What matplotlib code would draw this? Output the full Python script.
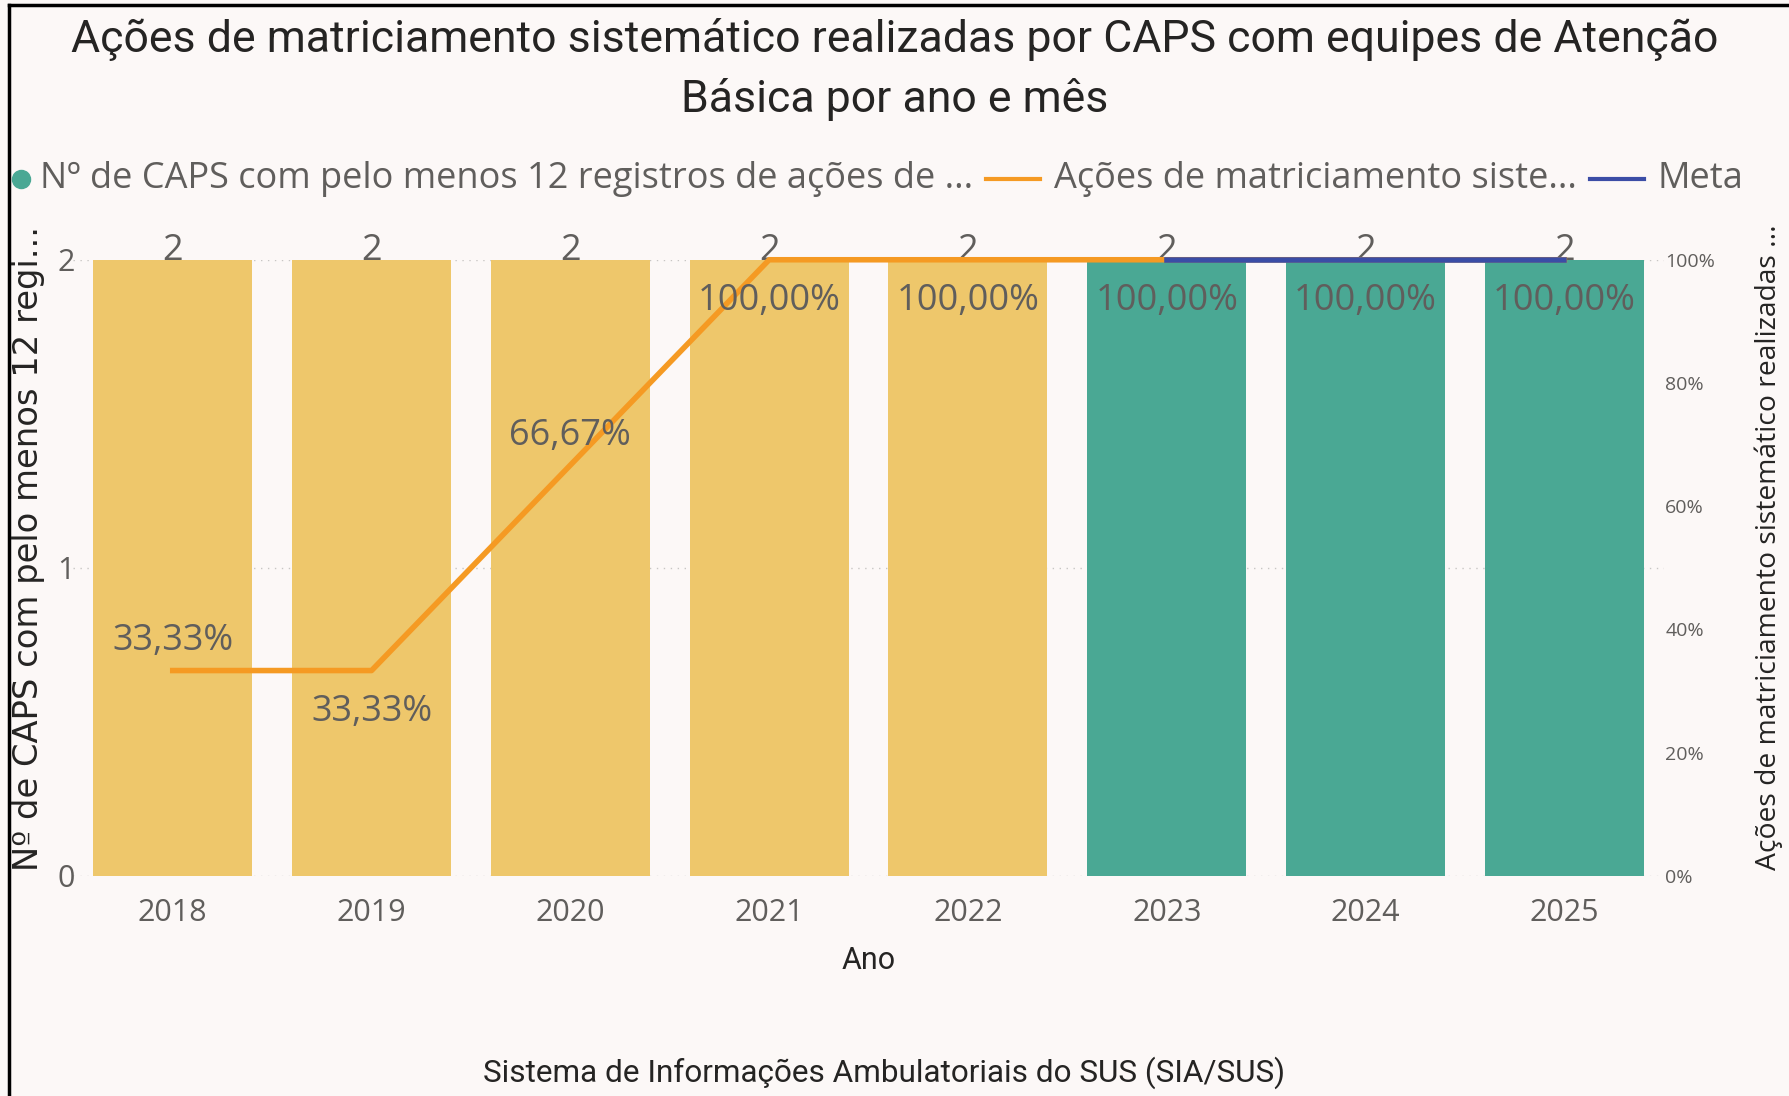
import matplotlib.pyplot as plt
from matplotlib.lines import Line2D
from matplotlib.ticker import FuncFormatter

# data
anos = ["2018", "2019", "2020", "2021", "2022", "2023", "2024", "2025"]
n_caps = [2, 2, 2, 2, 2, 2, 2, 2]
acoes_pct = [33.33, 33.33, 66.67, 100.00, 100.00, 100.00, 100.00, 100.00]
meta_anos = ["2023", "2024", "2025"]
meta_pct = [100, 100, 100]

titulo = "Ações de matriciamento sistemático realizadas por CAPS com equipes de Atenção\nBásica por ano e mês"
legenda = [
    "Nº de CAPS com pelo menos 12 registros de ações de ...",
    "Ações de matriciamento siste...",
    "Meta",
]
rotulo_esq = "Nº de CAPS com pelo menos 12 regi..."
rotulo_dir = "Ações de matriciamento sistemático realizadas ..."
fonte = "Sistema de Informações Ambulatoriais do SUS (SIA/SUS)"

AMARELO = "#EEC76B"
VERDE = "#4AA894"
LARANJA = "#F59A23"
AZUL = "#3B4DA6"
CINZA = "#605E5C"
ESCURO = "#252423"


def desenha_legenda(fig, y):
    """
    Legend drawn by hand so the marker/text gaps match Power BI.
    """
    renderer = fig.canvas.get_renderer()
    W = fig.bbox.width
    x = 0.0115
    fig.add_artist(Line2D([x], [y], marker="o", color=VERDE, markersize=13,
                          linestyle="none", transform=fig.transFigure))
    x += 17 * 1.141 / W
    cores = [None, LARANJA, AZUL]
    for i, nome in enumerate(legenda):
        if cores[i] is not None:
            x += 11 * 1.141 / W
            comp = 48 * 1.141 / W
            fig.add_artist(Line2D([x, x + comp], [y, y], color=cores[i], linewidth=3,
                                  transform=fig.transFigure))
            x += comp + 12 * 1.141 / W
        t = fig.text(x, y, nome, ha="left", va="center", fontsize=26, color=CINZA,
                     family="Open Sans")
        bb = t.get_window_extent(renderer)
        x += bb.width / W


def main():
    fig = plt.figure(figsize=(17.89, 10.96), dpi=100)
    fig.patch.set_facecolor("#FCF8F7")

    ax = fig.add_axes([0.041, 0.2008, 0.889, 0.5622])
    ax.set_facecolor("none")

    x = list(range(len(anos)))
    cores = [AMARELO] * 5 + [VERDE] * 3
    ax.bar(x, n_caps, width=0.8, color=cores, zorder=2)
    ax.set_xlim(-0.5, len(anos) - 0.5)
    ax.set_ylim(0, 2)
    ax.set_yticks([0, 1, 2])
    ax.set_xticks(x)
    ax.set_xticklabels(anos)
    for s in ax.spines.values():
        s.set_visible(False)
    ax.tick_params(length=0, colors=CINZA, labelsize=22, pad=16)
    ax.tick_params(axis="y", labelsize=22, pad=-1)
    ax.yaxis.grid(True, linestyle=(0, (1, 4)), color="#C8C6C4", linewidth=1)
    ax.set_axisbelow(True)
    for lab in ax.get_xticklabels() + ax.get_yticklabels():
        lab.set_family("Open Sans")

    ax.set_xlabel("Ano", fontsize=22, color=ESCURO, family="Roboto", labelpad=13)

    for xi, v in zip(x, n_caps):
        ax.annotate(str(v), (xi, v), xytext=(0, -7), textcoords="offset points",
                    ha="center", va="bottom", fontsize=26, color=CINZA,
                    family="Open Sans", zorder=6)

    ax2 = ax.twinx()
    ax2.set_ylim(0, 100)
    ax2.set_yticks([0, 20, 40, 60, 80, 100])
    ax2.yaxis.set_major_formatter(FuncFormatter(lambda v, p: f"{v:.0f}%"))
    for s in ax2.spines.values():
        s.set_visible(False)
    ax2.tick_params(length=0, colors=CINZA, labelsize=14, pad=1)
    for lab in ax2.get_yticklabels():
        lab.set_family("Open Sans")

    # linhas em 100% ficam no topo do eixo: sem recorte para nao cortar a espessura
    ax2.plot(x, acoes_pct, color=LARANJA, linewidth=4, zorder=3, clip_on=False)
    xm = [anos.index(a) for a in meta_anos]
    ax2.plot(xm, meta_pct, color=AZUL, linewidth=4, zorder=4, clip_on=False)

    # rotulos da linha: acima ou abaixo do ponto, como no original
    lados = [1, -1, 1, -1, -1, -1, -1, -1]
    for xi, v, lado in zip(x, acoes_pct, lados):
        txt = f"{v:.2f}%".replace(".", ",")
        desloc = 8 if lado > 0 else -17
        ax2.annotate(txt, (xi, v), xytext=(0, desloc), textcoords="offset points",
                     ha="center", va="bottom" if lado > 0 else "top",
                     fontsize=26, color=CINZA, family="Open Sans", zorder=5)

    # rotulos dos eixos y posicionados na figura
    fig.text(25 / 1568, 1 - 481 / 961, rotulo_esq, rotation=90, ha="center", va="center",
             fontsize=24.3, color=ESCURO, family="DejaVu Sans")
    fig.text(1550 / 1568, 1 - 480 / 961, rotulo_dir, rotation=90, ha="center", va="center",
             fontsize=20.3, color=ESCURO, family="Open Sans")

    fig.text(0.5, 0.9365, titulo, ha="center", va="center", fontsize=32.1,
             color=ESCURO, family="Roboto", linespacing=1.5)

    desenha_legenda(fig, 0.837)

    fig.text(0.494, 0.021, fonte, ha="center", va="center", fontsize=22.7,
             color=ESCURO, family="Roboto")

    # moldura preta na esquerda e no topo
    fig.add_artist(Line2D([0.005, 0.005], [0, 0.995], color="black", linewidth=2.5))
    fig.add_artist(Line2D([0.005, 1.0], [0.995, 0.995], color="black", linewidth=2.5))

    fig.savefig("out.png", dpi=100, facecolor=fig.get_facecolor())
    plt.close(fig)


if __name__ == "__main__":
    main()
